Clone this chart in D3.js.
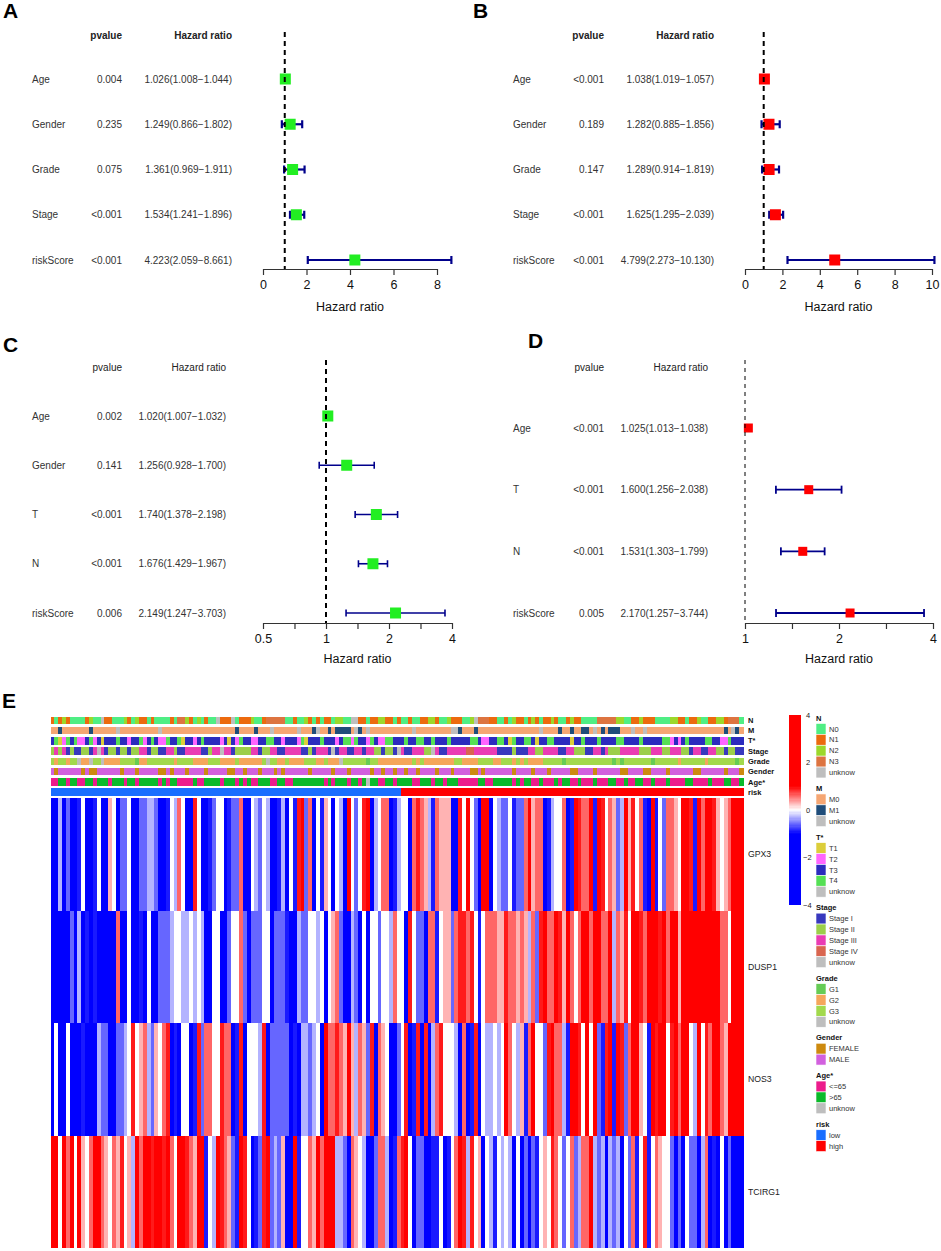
<!DOCTYPE html>
<html><head><meta charset="utf-8">
<script src="https://cdn.jsdelivr.net/npm/d3@7"></script>
<style>body{margin:0;background:#fff}svg{display:block}</style>
</head><body>
<svg id="c" width="941" height="1251"></svg>
<script>
// ---------------- Forest plot data ----------------
const aVars = ["Age","Gender","Grade","Stage","riskScore"];
const aP    = ["0.004","0.235","0.075","<0.001","<0.001"];
const aHR   = [1.026,1.249,1.361,1.534,4.223];
const aLow  = [1.008,0.866,0.969,1.241,2.059];
const aHigh = [1.044,1.802,1.911,1.896,8.661];
const aTicks = [0,2,4,6,8];

const bVars = ["Age","Gender","Grade","Stage","riskScore"];
const bP    = ["<0.001","0.189","0.147","<0.001","<0.001"];
const bHR   = [1.038,1.282,1.289,1.625,4.799];
const bLow  = [1.019,0.885,0.914,1.295,2.273];
const bHigh = [1.057,1.856,1.819,2.039,10.130];
const bTicks = [0,2,4,6,8,10];

const cVars = ["Age","Gender","T","N","riskScore"];
const cP    = ["0.002","0.141","<0.001","<0.001","0.006"];
const cHR   = [1.020,1.256,1.740,1.676,2.149];
const cLow  = [1.007,0.928,1.378,1.429,1.247];
const cHigh = [1.032,1.700,2.198,1.967,3.703];
const cTicks = [0.5,0.707,1,1.414,2,2.828,4];
const cTickLabels = [0.5,1,2,4];

const dVars = ["Age","T","N","riskScore"];
const dP    = ["<0.001","<0.001","<0.001","0.005"];
const dHR   = [1.025,1.600,1.531,2.170];
const dLow  = [1.013,1.256,1.303,1.257];
const dHigh = [1.038,2.038,1.799,3.744];
const dTicks = [1,1.414,2,2.828,4];
const dTickLabels = [1,2,4];

// ---------------- Heatmap data (levels 0..8; 0 = -1.2 ... 8 = +1.2) ----------------
const genes = ["GPX3","DUSP1","NOS3","TCIRG1"];
const GPX3 = ["0030200140","0140054022","4002233200","1436400740","0124401226","0043243001",
  "3041782604","1540430842","4780346601","3440676531","6555007484","20880432","2412",
  "2685660134","4601876681","8746523857","4610814266","5488718688","75456888"].join("");
const DUSP1 = ["0000020301","0100000600","4001040022","2344334343","0044002446","2022244022",
  "2100322443","4045620032","0404424436","4407422066","1455267767","41466655","7665",
  "6536278668","7586468868","8668365748","8768887868","8588888888","88664888"].join("");
const NOS3 = ["0400400010","0032200223","4745632546","7010440172","6644766017","0444370222",
  "2201033234","0866765853","6527065400","2470170703","6744430601","70433434","8643",
  "5168442786","6318874848","2178187268","8541878847","8688438476","88658888"].join("");
const TCIRG1 = ["8848684854","6886546574","5386887887","8648876588","1438765218","7401278232",
  "5008144658","6888332065","4300266301","6784022001","1401468737","45043143","4304",
  "0202145476","4246236683","2303230426","1471465442","0204220360","10402000"].join("");

// annotation tracks (one code per sample)
const annN = ["babcbaaaab","caaubbaaac","bacbbabaaa","abaddcbaca","baaubbbuab","bbcaabdddd",
  "daabaacbab","abbaccaauu","bbabbccbba","baabaabbcc","baacbbbaac","udddbbaaba",
  "cbbabcbabb","cbaabcbbaa","aadddddcca","abbcbbbaaa","accbbabbca","abbccbddda"].join("");
const annM = ["aabaaaaaaa","baaaaaauaa","aaaaaaaaua","aaaaaaaaaa","aaaaaaaaba","aaabaaauaa",
  "aaaauaaabu","aababbbbau","bauaaaaaaa","aaaauaaaaa","aaaauubaaa","baaaaaaaaa",
  "aaaaaaauaa","aabaabaabb","auababbbaa","auaauaaaaa","aaaaaaaaaa","aaaaabauba"].join("");
const annT = ["3412434223","4231333433","2334234322","4334133234","3333231324","3322334433",
  "2333241333","4333234424","3324322443","3343344334","3334333334","4322334431",
  "4334431334","4333313343","3343333443","3334333334","4232343333","4433224333"].join("");
const annStage = ["2323121122","13u3122122","1223312211","3321133331","1233u33122","2233122331",
  "1333311213","331u133113","3133221221","u31133322u","3113333344","3333331111",
  "2111332233","3311332221","1331322233","3332223332","2333221331","1332212211"].join("");
const annGrade = ["3233233u22","u33u222233","3312233333","3323333222","2333222232","222223u332",
  "2322223332","23222u3333","3313322222","2222323222","2222233222","2333322333",
  "2323222233","3331333333","3333331313","3333331333","3332333333","2333333313"].join("");
const annGender = ["mfmmmmmmfm","ffmmmmmmfm","mmfmmmmmff","mfmmmfmmmm","fmmmmmffmm","fmmmfmmmfm",
  "fmmmmmmfmm","mmmfmmmfmm","mmmfmmfmmf","mmfmmfmmmm","fmmmfmmmmf","fmfmmmmmmm",
  "fmmmmfmmmf","mmmmmffmmm","mfmmmmmmff","mmmmffmmmm","fmmmmmmffm","mmmmmfmmmf"].join("");
const annAge = ["yyooyooyyo","oyoooyoooy","ooyoooooyo","yooyyyyoyy","ooooyoooyo","yoyyoooyyo",
  "oyyooooooo","oyoyoooyoo","youooyyooy","ooooyyoooy","ooyoooyyyy","yooyyooooo",
  "yoyooyyoyy","yoyooyyoyy","yoyyyooyyo","yyooyyoyyy","oyyyyooyyy","yoyyyooyyo"].join("");
const riskLowCount = 91, riskHighCount = 89;
const annRisk = "l".repeat(riskLowCount) + "h".repeat(riskHighCount);

const legendTicks = [4,2,0,-2,-4];

// legend categories
const legN = [["N0","#4FEE84"],["N1","#EC6A0E"],["N2","#9CD82B"],["N3","#DD7440"],["unknow","#BEBEBE"]];
const legM = [["M0","#F5A673"],["M1","#1F4D7A"],["unknow","#BEBEBE"]];
const legT = [["T1","#DCCE3A"],["T2","#FF66FF"],["T3","#2B2BBE"],["T4","#55E055"],["unknow","#BEBEBE"]];
const legStage = [["Stage I","#3838BE"],["Stage II","#9CCF4A"],["Stage III","#EA3CB4"],["Stage IV","#D9654F"],["unknow","#BEBEBE"]];
const legGrade = [["G1","#66CC55"],["G2","#F5A65B"],["G3","#A2D94C"],["unknow","#BEBEBE"]];
const legGender = [["FEMALE","#CD8A0F"],["MALE","#D260DE"]];
const legAge = [["<=65","#EC1C8C"],[">65","#0ABA2A"],["unknow","#BEBEBE"]];
const legRisk = [["low","#1A6EFF"],["high","#FF0000"]];

// ---------------------------------------------------------------
const FONT = '"Liberation Sans", Arial, Helvetica, sans-serif';
const svg = d3.select("#c").attr("font-family", FONT);

function drawForest(o){
  const g = svg.append("g");
  g.append("text").attr("x",o.letterX).attr("y",o.letterY).attr("font-size",21)
    .attr("font-weight","bold").text(o.letter);
  const x = (o.log ? d3.scaleLog() : d3.scaleLinear()).domain(o.domain).range(o.range);
  const y = d3.scalePoint().domain(o.vars).range(o.rowRange);
  const hw = o.bold ? "bold" : "normal";
  g.append("text").attr("x",o.pX).attr("y",o.headY).attr("dy","0.35em").attr("text-anchor","end")
    .attr("font-size",10).attr("font-weight",hw).attr("fill","#222").text("pvalue");
  g.append("text").attr("x",o.hrX).attr("y",o.headY).attr("dy","0.35em").attr("text-anchor","end")
    .attr("font-size",10).attr("font-weight",hw).attr("fill","#222").text("Hazard ratio");
  const rows = o.vars.map((v,i)=>({v, p:o.p[i], hr:o.hr[i], lo:o.lo[i], hi:o.hi[i]}));
  const r = g.selectAll("g.row").data(rows).join("g").attr("class","row");
  r.append("text").attr("x",o.labX).attr("y",d=>y(d.v)).attr("dy","0.35em").attr("font-size",10)
    .attr("fill","#333").text(d=>d.v);
  r.append("text").attr("x",o.pX).attr("y",d=>y(d.v)).attr("dy","0.35em").attr("font-size",10)
    .attr("text-anchor","end").attr("fill","#333").text(d=>d.p);
  r.append("text").attr("x",o.hrX).attr("y",d=>y(d.v)).attr("dy","0.35em").attr("font-size",10)
    .attr("text-anchor","end").attr("fill","#333")
    .text(d=>`${d.hr.toFixed(3)}(${d.lo.toFixed(3)}\u2212${d.hi.toFixed(3)})`);
  // reference line
  g.append("line").attr("x1",x(1)).attr("x2",x(1)).attr("y1",o.dashTop).attr("y2",o.axisY)
    .attr("stroke","#000").attr("stroke-width",o.dashW).attr("stroke-dasharray",o.dash);
  // CIs
  r.append("line").attr("x1",d=>x(d.lo)).attr("x2",d=>x(d.hi)).attr("y1",d=>y(d.v)).attr("y2",d=>y(d.v))
    .attr("stroke","#00008B").attr("stroke-width",o.ciW);
  ["lo","hi"].forEach(k=>{
    r.append("line").attr("x1",d=>x(d[k])).attr("x2",d=>x(d[k]))
      .attr("y1",d=>y(d.v)-o.cap/2).attr("y2",d=>y(d.v)+o.cap/2)
      .attr("stroke","#00008B").attr("stroke-width",o.ciW);
  });
  r.append("rect").attr("x",d=>x(d.hr)-o.box/2).attr("y",d=>y(d.v)-o.box/2)
    .attr("width",o.box).attr("height",o.box).attr("fill",o.color);
  // axis
  const ax = d3.axisBottom(x).tickValues(o.ticks)
    .tickFormat(v=>o.tickLabels.includes(v) ? String(v) : "")
    .tickSize(6).tickPadding(5).tickSizeOuter(0);
  const axg = g.append("g").attr("transform",`translate(0,${o.axisY})`).call(ax);
  axg.select(".domain").attr("stroke","#333").attr("stroke-width",1.2);
  axg.selectAll(".tick line").attr("stroke","#333").attr("stroke-width",1.2);
  axg.selectAll("text").attr("font-size",12.5).attr("font-family",FONT).attr("fill","#111");
  g.append("text").attr("x",(o.range[0]+o.range[1])/2).attr("y",o.xlabY).attr("dy","0.35em")
    .attr("text-anchor","middle").attr("font-size",12.5).attr("fill","#111").text("Hazard ratio");
}

drawForest({letter:"A",letterX:3,letterY:18,vars:aVars,p:aP,hr:aHR,lo:aLow,hi:aHigh,
  bold:true,headY:35,rowRange:[79,260],labX:32,pX:122,hrX:232,log:false,domain:[0,8],range:[263,437],
  axisY:269,ticks:aTicks,tickLabels:aTicks,dashTop:32,dashW:2,dash:"5,4",xlabY:307,
  box:11,color:"#22EE22",ciW:2.2,cap:8});
drawForest({letter:"B",letterX:473,letterY:18,vars:bVars,p:bP,hr:bHR,lo:bLow,hi:bHigh,
  bold:true,headY:35,rowRange:[79,260],labX:513,pX:604,hrX:714,log:false,domain:[0,10],range:[745,932],
  axisY:269,ticks:bTicks,tickLabels:bTicks,dashTop:32,dashW:2,dash:"5,4",xlabY:307,
  box:11,color:"#FF0000",ciW:2.2,cap:8});
drawForest({letter:"C",letterX:3,letterY:352,vars:cVars,p:cP,hr:cHR,lo:cLow,hi:cHigh,
  bold:false,headY:367,rowRange:[416,613],labX:32,pX:122,hrX:226,log:true,domain:[0.5,4],range:[263,452],
  axisY:623,ticks:cTicks,tickLabels:cTickLabels,dashTop:360,dashW:2,dash:"5,4",xlabY:659,
  box:11,color:"#22EE22",ciW:1.6,cap:7});
drawForest({letter:"D",letterX:528,letterY:348,vars:dVars,p:dP,hr:dHR,lo:dLow,hi:dHigh,
  bold:false,headY:367,rowRange:[428,613],labX:513,pX:604,hrX:708,log:true,domain:[1,4],range:[745,933],
  axisY:623,ticks:dTicks,tickLabels:dTickLabels,dashTop:360,dashW:1,dash:"4,4",xlabY:659,
  box:9,color:"#FF0000",ciW:1.8,cap:8});

// ---------------- Heatmap ----------------
const hg = svg.append("g");
hg.append("text").attr("x",2).attr("y",708).attr("font-size",21).attr("font-weight","bold").text("E");

const exprRows = [GPX3,DUSP1,NOS3,TCIRG1].map(s => Array.from(s, ch => (+ch - 4) * 0.3));
const nS = exprRows[0].length;
const xS = d3.scaleBand().domain(d3.range(nS)).range([50.5,743]);
const yG = d3.scaleBand().domain(genes).range([798,1248]);
const col = d3.scaleLinear().domain([-1,0,1]).range(["#0000FF","#FFFFFF","#FF0000"]).clamp(true);

genes.forEach((gname,gi)=>{
  hg.append("g").selectAll("rect").data(exprRows[gi]).join("rect")
    .attr("x",(v,i)=>xS(i)).attr("width",xS.bandwidth()+0.6)
    .attr("y",yG(gname)).attr("height",yG.bandwidth()+0.3)
    .attr("fill",v=>col(v)).attr("shape-rendering","crispEdges");
  hg.append("text").attr("x",748).attr("y",yG(gname)+yG.bandwidth()/2).attr("dy","0.35em")
    .attr("font-size",8.7).attr("fill","#222").text(gname);
});

const tracks = [
  {name:"N", codes:annN, map:{a:legN[0][1],b:legN[1][1],c:legN[2][1],d:legN[3][1],u:legN[4][1]}},
  {name:"M", codes:annM, map:{a:legM[0][1],b:legM[1][1],u:legM[2][1]}},
  {name:"T*", codes:annT, map:{"1":legT[0][1],"2":legT[1][1],"3":legT[2][1],"4":legT[3][1],u:legT[4][1]}},
  {name:"Stage", codes:annStage, map:{"1":legStage[0][1],"2":legStage[1][1],"3":legStage[2][1],"4":legStage[3][1],u:legStage[4][1]}},
  {name:"Grade", codes:annGrade, map:{"1":legGrade[0][1],"2":legGrade[1][1],"3":legGrade[2][1],u:legGrade[3][1]}},
  {name:"Gender", codes:annGender, map:{f:legGender[0][1],m:legGender[1][1]}},
  {name:"Age*", codes:annAge, map:{y:legAge[0][1],o:legAge[1][1],u:legAge[2][1]}},
  {name:"risk", codes:annRisk, map:{l:legRisk[0][1],h:legRisk[1][1]}}
];
const yA = d3.scaleBand().domain(tracks.map(t=>t.name)).range([716.5,796]).paddingInner(0.27);
tracks.forEach(t=>{
  const arr = Array.from(t.codes).slice(0,nS);
  hg.append("g").selectAll("rect").data(arr).join("rect")
    .attr("x",(v,i)=>xS(i)).attr("width",xS.bandwidth()+0.6)
    .attr("y",yA(t.name)).attr("height",yA.bandwidth())
    .attr("fill",v=>t.map[v]||"#BEBEBE").attr("shape-rendering","crispEdges");
  hg.append("text").attr("x",748).attr("y",yA(t.name)+yA.bandwidth()/2).attr("dy","0.35em")
    .attr("font-size",7.5).attr("font-weight","bold").attr("fill","#111").text(t.name);
});

// colour bar
const yC = d3.scaleLinear().domain([4,-4]).range([715,905]);
const steps = d3.range(4,-4,-0.05);
hg.append("g").selectAll("rect").data(steps).join("rect")
  .attr("x",789).attr("width",12).attr("y",v=>yC(v)).attr("height",v=>yC(v-0.05)-yC(v)+0.3)
  .attr("fill",v=>col(v-0.025)).attr("shape-rendering","crispEdges");
hg.append("g").selectAll("text").data(legendTicks).join("text")
  .attr("x",v=>v<0?803:806).attr("y",v=>yC(v)).attr("dy","0.35em").attr("font-size",7.5).attr("fill","#222")
  .text(v=>v<0?"\u2212"+Math.abs(v):String(v));

// categorical legend
const legendGroups = [["N",legN],["M",legM],["T*",legT],["Stage",legStage],["Grade",legGrade],
  ["Gender",legGender],["Age*",legAge],["risk",legRisk]];
let ly = 718;
const itemH = 10.9;
legendGroups.forEach(([title,items])=>{
  hg.append("text").attr("x",816).attr("y",ly).attr("dy","0.35em").attr("font-size",7.5)
    .attr("font-weight","bold").attr("fill","#111").text(title);
  items.forEach(([lab,c],k)=>{
    const cy = ly + itemH*(k+1);
    hg.append("rect").attr("x",816).attr("y",cy-itemH/2).attr("width",10).attr("height",itemH)
      .attr("fill",c).attr("stroke","#fff").attr("stroke-width",0.6);
    hg.append("text").attr("x",829).attr("y",cy).attr("dy","0.35em").attr("font-size",7.5)
      .attr("fill","#333").text(lab);
  });
  ly = ly + itemH*items.length + 16;
});
</script>
</body></html>
